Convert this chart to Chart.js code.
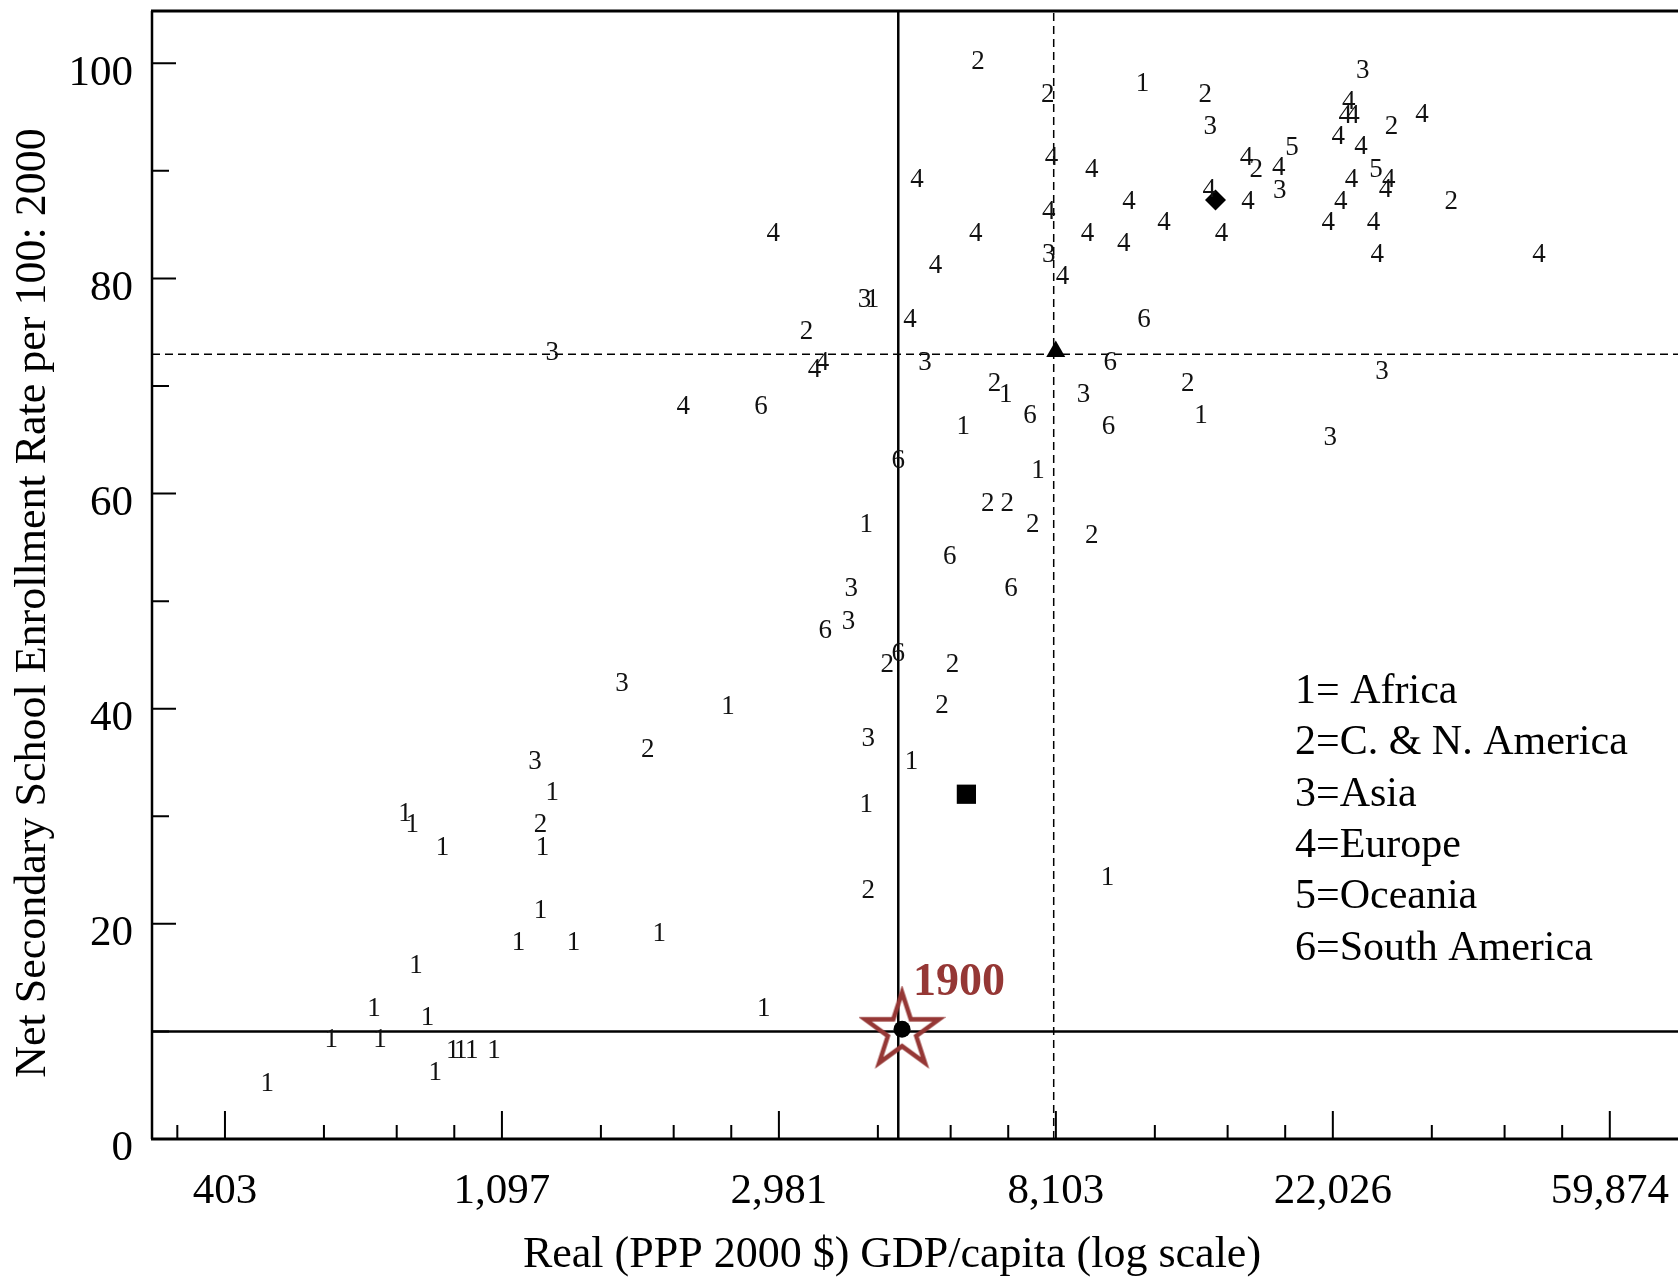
<!DOCTYPE html>
<html>
<head>
<meta charset="utf-8">
<script src="https://cdn.jsdelivr.net/npm/chart.js@4"></script>
<style>
  html, body { margin: 0; padding: 0; background: #fff; }
</style>
</head>
<body>
<canvas id="chart" width="1678" height="1283"></canvas>
<script>
// region codes used as plot symbols, and the legend text
var regionCodes = ['1', '2', '3', '4', '5', '6'];
var regionLabels = ['1= Africa', '2=C. & N. America', '3=Asia', '4=Europe', '5=Oceania', '6=South America'];

// real GDP per capita (PPP 2000 $) and net secondary enrollment per 100
var africaGdp = [11080, 6760, 5800, 13690, 7597, 4085, 4180, 4810, 4085, 9760, 2480, 1315, 773, 793, 885, 1270,
    1260, 1164, 1420, 1936, 804, 691, 838, 2822, 592, 706, 918, 945, 983, 1066, 862, 470];
var africaEnrol = [98.1, 69.2, 66.2, 67.2, 62.1, 57.1, 78.0, 35.1, 31.1, 24.3, 40.2, 32.2, 30.2, 29.2, 27.1, 27.1,
    21.2, 18.2, 18.2, 19.1, 16.1, 12.1, 11.3, 12.1, 9.2, 9.2, 8.2, 8.2, 8.2, 8.2, 6.1, 5.1];

var americaGdp = [6118, 7871, 13900, 27230, 16700, 33780, 3293, 6494, 13040, 6334, 6800, 7451, 9220, 4410, 5580,
    5370, 1856, 1260, 4116];
var americaEnrol = [100.1, 97.1, 97.1, 94.1, 90.1, 87.1, 75.0, 70.2, 70.2, 59.0, 59.0, 57.1, 56.1, 44.1, 44.1,
    40.3, 36.2, 29.2, 23.1];

var asiaGdp = [14150, 24530, 18180, 7898, 4060, 1315, 5050, 26300, 8950, 21830, 3870, 3832, 4116, 1692, 1236];
var asiaEnrol = [94.1, 99.3, 88.1, 82.2, 78.0, 73.1, 72.1, 71.3, 69.2, 65.2, 51.1, 48.1, 37.2, 42.3, 35.1];

var europeGdp = [2922, 3390, 3490, 2111, 23330, 23030, 23700, 30380, 22470, 24390, 7977, 9220, 16130, 18120, 26960,
    26650, 23570, 4906, 14100, 10550, 16220, 22670, 7898, 11970, 6070, 9080, 10350, 14740, 21660, 25500, 25850,
    46370, 8300, 5247, 4785];
var europeEnrol = [84.1, 71.5, 72.1, 68.1, 96.4, 95.1, 95.1, 95.2, 93.2, 92.2, 91.2, 90.1, 91.2, 90.3, 89.2,
    88.2, 89.2, 89.2, 88.2, 87.1, 87.1, 87.1, 86.2, 85.2, 84.1, 84.1, 83.2, 84.1, 85.2, 85.2, 82.2,
    82.2, 80.1, 81.2, 76.1];

var oceaniaGdp = [19010, 25750];
var oceaniaEnrol = [92.1, 90.1];

var southAmGdp = [11140, 9860, 7378, 9800, 4588, 5526, 6890, 3525, 4588, 2794];
var southAmEnrol = [76.1, 72.1, 67.2, 66.2, 63.0, 54.1, 51.1, 47.2, 45.1, 68.1];

// filled markers: diamond, triangle, square, circle
var markerGdp = [14420, 8100, 5866, 4650];
var markerEnrol = [87.3, 73.2, 32.05, 10.2];

// 1900 point (star) and its label
var starGdp = [4650];
var starEnrol = [10.2];
var starLabel = '1900';

// reference lines
var solidLineGdp = 4587;
var solidLineEnrol = 10.0;
var dashLineGdp = 8040;
var dashLineEnrol = 72.95;

// axes
var xTickValues = [Math.exp(6), Math.exp(7), Math.exp(8), Math.exp(9), Math.exp(10), Math.exp(11)];
var xTickLabels = ['403', '1,097', '2,981', '8,103', '22,026', '59,874'];
var yTickValues = [0, 20, 40, 60, 80, 100];
var xTitle = 'Real (PPP 2000 $) GDP/capita (log scale)';
var yTitle = 'Net Secondary School Enrollment Rate per 100: 2000';
var xMin = 310, xMax = 76590;
var yMin = 0, yMax = 104.86;

var serif = '"Liberation Serif", "Times New Roman", serif';
var starRed = '#953735';

var regionGdp = [africaGdp, americaGdp, asiaGdp, europeGdp, oceaniaGdp, southAmGdp];
var regionEnrol = [africaEnrol, americaEnrol, asiaEnrol, europeEnrol, oceaniaEnrol, southAmEnrol];

function pairs(xs, ys) {
    return xs.map(function (x, i) { return { x: x, y: ys[i] }; });
}

// hollow five pointed star used as point style
function makeStar(r, color, lw) {
    var c = document.createElement('canvas');
    var s = Math.ceil(2 * r + 2 * lw);
    c.width = s; c.height = s;
    var g = c.getContext('2d');
    g.strokeStyle = color;
    g.lineWidth = lw;
    g.lineJoin = 'miter';
    g.beginPath();
    for (var i = 0; i < 10; i++) {
        var rad = (i % 2 === 0) ? r : r * 0.382;
        var a = -Math.PI / 2 + i * Math.PI / 5;
        var px = s / 2 + rad * Math.cos(a);
        var py = s / 2 + rad * Math.sin(a) + 2;
        if (i === 0) g.moveTo(px, py); else g.lineTo(px, py);
    }
    g.closePath();
    g.stroke();
    return c;
}

var datasets = [];

regionLabels.forEach(function (label, i) {
    datasets.push({
        label: label,
        code: regionCodes[i],
        data: pairs(regionGdp[i], regionEnrol[i]),
        pointRadius: 0,
        pointHoverRadius: 0,
        order: 1
    });
});

var markerStyles = ['rectRot', 'triangle', 'rect', 'circle'];
var markerSizes = [10.5, 11, 13.6, 8.5];
markerGdp.forEach(function (g, i) {
    datasets.push({
        label: 'marker' + i,
        data: [{ x: g, y: markerEnrol[i] }],
        pointStyle: markerStyles[i],
        pointRadius: markerSizes[i],
        pointBackgroundColor: '#000',
        pointBorderColor: '#000',
        pointBorderWidth: 0,
        order: 0
    });
});

datasets.push({
    label: 'star',
    isStar: true,
    data: pairs(starGdp, starEnrol),
    pointStyle: makeStar(39, starRed, 4.5),
    pointRadius: 40,
    order: 0
});

function lineSet(data, dash, width) {
    return {
        label: 'line',
        data: data,
        showLine: true,
        borderColor: '#000',
        borderWidth: width,
        borderDash: dash,
        pointRadius: 0,
        fill: false,
        order: 5
    };
}
datasets.push(lineSet([{ x: solidLineGdp, y: yMin }, { x: solidLineGdp, y: yMax }], [], 2.5));
datasets.push(lineSet([{ x: xMin, y: solidLineEnrol }, { x: xMax, y: solidLineEnrol }], [], 2.5));
datasets.push(lineSet([{ x: dashLineGdp, y: yMin }, { x: dashLineGdp, y: yMax }], [8, 5], 1.5));
datasets.push(lineSet([{ x: xMin, y: dashLineEnrol }, { x: xMax, y: dashLineEnrol }], [8, 5], 1.5));

// frame and inward tick marks
var framePlugin = {
    id: 'frame',
    beforeDatasetsDraw: function (chart) {
        var ctx = chart.ctx, a = chart.chartArea;
        var xs = chart.scales.x, ys = chart.scales.y;
        ctx.save();
        ctx.strokeStyle = '#000';
        ctx.lineWidth = 2;
        ctx.beginPath();
        for (var v = 10; v <= 100; v += 10) {
            var py = ys.getPixelForValue(v);
            var len = (v % 20 === 0) ? 24 : 17;
            ctx.moveTo(a.left, py);
            ctx.lineTo(a.left + len, py);
        }
        xTickValues.forEach(function (t) {
            var px = xs.getPixelForValue(t);
            ctx.moveTo(px, a.bottom);
            ctx.lineTo(px, a.bottom - 28);
        });
        for (var k = 5; k <= 11; k++) {
            var lo = Math.exp(k), hi = Math.exp(k + 1);
            for (var j = 1; j <= 3; j++) {
                var m = lo + j * (hi - lo) / 4;
                if (m <= xMin || m >= xMax) continue;
                var mx = xs.getPixelForValue(m);
                ctx.moveTo(mx, a.bottom);
                ctx.lineTo(mx, a.bottom - 14);
            }
        }
        ctx.stroke();

        ctx.lineWidth = 3;
        ctx.beginPath();
        ctx.moveTo(a.left - 1, a.top);
        ctx.lineTo(a.right, a.top);
        ctx.moveTo(a.left - 1, a.bottom);
        ctx.lineTo(a.right, a.bottom);
        ctx.stroke();
        ctx.lineWidth = 2.5;
        ctx.beginPath();
        ctx.moveTo(a.left, a.top);
        ctx.lineTo(a.left, a.bottom);
        ctx.stroke();
        ctx.restore();
    }
};

// region digits, legend, axis titles and the 1900 label
var labelPlugin = {
    id: 'labels',
    afterDatasetsDraw: function (chart) {
        var ctx = chart.ctx;
        ctx.save();
        ctx.textAlign = 'center';
        ctx.textBaseline = 'middle';
        ctx.fillStyle = '#111';
        ctx.font = '27px ' + serif;
        chart.data.datasets.forEach(function (ds, i) {
            if (!ds.code) return;
            chart.getDatasetMeta(i).data.forEach(function (el) {
                ctx.fillText(ds.code, el.x, el.y);
            });
        });

        chart.data.datasets.forEach(function (ds, i) {
            if (!ds.isStar) return;
            var el = chart.getDatasetMeta(i).data[0];
            ctx.fillStyle = starRed;
            ctx.font = 'bold 46px ' + serif;
            ctx.fillText(starLabel, el.x + 57, el.y - 46);
        });

        ctx.fillStyle = '#000';
        ctx.font = '44px ' + serif;
        ctx.fillText(xTitle, 892, 1255);
        ctx.save();
        ctx.translate(33, 603);
        ctx.rotate(-Math.PI / 2);
        ctx.fillText(yTitle, 0, 0);
        ctx.restore();

        ctx.textAlign = 'left';
        ctx.font = '42px ' + serif;
        regionLabels.forEach(function (t, i) {
            ctx.fillText(t, 1295, 692 + i * 51.3);
        });
        ctx.restore();
    }
};

var ctx = document.getElementById('chart').getContext('2d');
var chart = new Chart(ctx, {
    type: 'scatter',
    data: { datasets: datasets },
    options: {
        responsive: false,
        animation: false,
        devicePixelRatio: 1,
        layout: { autoPadding: false, padding: { top: 11, right: 0, bottom: 0, left: 0 } },
        plugins: {
            legend: { display: false },
            tooltip: { enabled: false }
        },
        scales: {
            x: {
                type: 'logarithmic',
                min: xMin,
                max: xMax,
                afterBuildTicks: function (axis) {
                    axis.ticks = xTickValues.map(function (v) { return { value: v }; });
                },
                afterFit: function (axis) {
                    axis.height = 144;
                    axis.paddingLeft = 0;
                    axis.paddingRight = 0;
                },
                grid: { display: false, drawTicks: false },
                border: { display: false },
                ticks: {
                    autoSkip: false,
                    maxRotation: 0,
                    padding: 27,
                    color: '#000',
                    font: { family: serif, size: 43 },
                    callback: function (v, i) { return xTickLabels[i]; }
                }
            },
            y: {
                min: yMin,
                max: yMax,
                afterBuildTicks: function (axis) {
                    axis.ticks = yTickValues.map(function (v) { return { value: v }; });
                },
                afterFit: function (axis) {
                    axis.width = 152;
                    axis.paddingTop = 0;
                    axis.paddingBottom = 0;
                },
                grid: { display: false, drawTicks: false },
                border: { display: false },
                ticks: {
                    padding: 19,
                    labelOffset: 10,
                    color: '#000',
                    font: { family: serif, size: 43 }
                }
            }
        }
    },
    plugins: [framePlugin, labelPlugin]
});
</script>
</body>
</html>
